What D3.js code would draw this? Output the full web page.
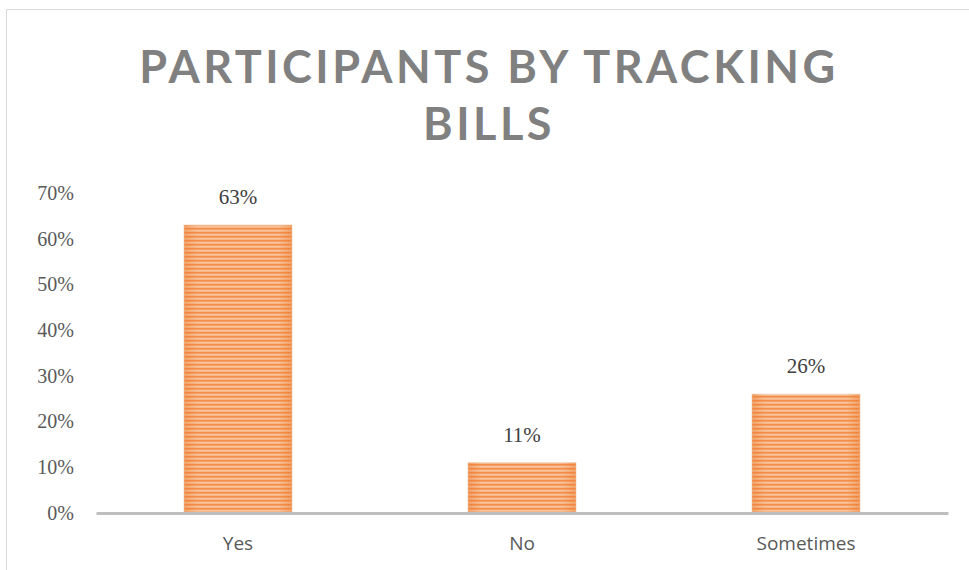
<!DOCTYPE html>
<html>
<head>
<meta charset="utf-8">
<script src="https://cdn.jsdelivr.net/npm/d3@7"></script>
<style>
  body { margin: 0; background: #fff; }
</style>
</head>
<body>
<div id="chart"></div>
<script>
// Data

var categories = ['Yes', 'No', 'Sometimes'];
var shares = [0.63, 0.11, 0.26];
var yTicks = [0, 0.1, 0.2, 0.3, 0.4, 0.5, 0.6, 0.7];
var titleLines = ['PARTICIPANTS BY TRACKING', 'BILLS'];

// Dimensions

var width = 969;
var height = 570;
var plot = { left: 96, right: 948, top: 193, bottom: 513 };

var svg = d3.select('#chart')
  .append('svg')
  .attr('width', width)
  .attr('height', height);

// Chart frame (only top and left edges visible)

svg.append('path')
  .attr('d', 'M6.5,' + height + 'V9.5H' + width)
  .attr('fill', 'none')
  .attr('stroke', '#d9d9d9')
  .attr('stroke-width', 1);

// Bar fill: orange with fine horizontal stripes

var defs = svg.append('defs');

var stripes = defs.append('pattern')
  .attr('id', 'stripes')
  .attr('patternUnits', 'userSpaceOnUse')
  .attr('width', 8)
  .attr('height', 4);
stripes.append('rect').attr('width', 8).attr('height', 4).attr('fill', '#f6ab76');
stripes.append('rect').attr('y', 0).attr('width', 8).attr('height', 1.3).attr('fill', '#f28c48');
stripes.append('rect').attr('y', 2.2).attr('width', 8).attr('height', 1.2).attr('fill', '#fac9a3');

var edge = defs.append('linearGradient')
  .attr('id', 'edge')
  .attr('x1', 0).attr('x2', 1).attr('y1', 0).attr('y2', 0);
edge.append('stop').attr('offset', '0%').attr('stop-color', '#ec7d32').attr('stop-opacity', 0.45);
edge.append('stop').attr('offset', '12%').attr('stop-color', '#ec7d32').attr('stop-opacity', 0);
edge.append('stop').attr('offset', '88%').attr('stop-color', '#ec7d32').attr('stop-opacity', 0);
edge.append('stop').attr('offset', '100%').attr('stop-color', '#ec7d32').attr('stop-opacity', 0.45);

// Scales

var x = d3.scaleBand()
  .domain(categories)
  .range([plot.left, plot.right])
  .paddingInner(0.62)
  .paddingOuter(0.31);

var y = d3.scaleLinear()
  .domain([0, 0.7])
  .range([plot.bottom, plot.top]);

// Title

svg.append('g')
  .selectAll('text')
  .data(titleLines)
  .enter()
  .append('text')
  .attr('x', 489)
  .attr('y', function (d, i) { return 83 + i * 57; })
  .attr('text-anchor', 'middle')
  .attr('font-family', 'Lato, "Open Sans", sans-serif')
  .attr('font-weight', 'bold')
  .attr('font-size', 45)
  .attr('letter-spacing', 3.5)
  .attr('fill', '#808080')
  .text(function (d) { return d; });

// Y axis labels (no line, no ticks)

var yAxis = d3.axisLeft(y)
  .tickValues(yTicks)
  .tickFormat(d3.format('.0%'))
  .tickSize(0)
  .tickPadding(0);

var gy = svg.append('g')
  .attr('transform', 'translate(74,0)')
  .call(yAxis);
gy.select('.domain').remove();
gy.selectAll('text')
  .attr('font-family', '"Liberation Serif", "Times New Roman", serif')
  .attr('font-size', 20)
  .attr('fill', '#595959');

// Bars

svg.append('g')
  .selectAll('rect')
  .data(shares)
  .enter()
  .append('rect')
  .attr('x', function (d, i) { return x(categories[i]); })
  .attr('y', function (d) { return y(d); })
  .attr('width', x.bandwidth())
  .attr('height', function (d) { return y(0) - y(d); })
  .attr('fill', 'url(#stripes)')
  .attr('stroke', '#f0d2bc')
  .attr('stroke-width', 0.8);

svg.append('g')
  .selectAll('rect')
  .data(shares)
  .enter()
  .append('rect')
  .attr('x', function (d, i) { return x(categories[i]); })
  .attr('y', function (d) { return y(d); })
  .attr('width', x.bandwidth())
  .attr('height', function (d) { return y(0) - y(d); })
  .attr('fill', 'url(#edge)');

// Data labels

svg.append('g')
  .selectAll('text')
  .data(shares)
  .enter()
  .append('text')
  .attr('x', function (d, i) { return x(categories[i]) + x.bandwidth() / 2; })
  .attr('y', function (d) { return y(d) - 21; })
  .attr('text-anchor', 'middle')
  .attr('font-family', '"Liberation Serif", "Times New Roman", serif')
  .attr('font-size', 21)
  .attr('fill', '#404040')
  .text(function (d) { return d3.format('.0%')(d); });

// X axis

var xAxis = d3.axisBottom(x)
  .tickSize(0)
  .tickPadding(24);

var gx = svg.append('g')
  .attr('transform', 'translate(0,' + plot.bottom + ')')
  .call(xAxis);
gx.select('.domain')
  .attr('stroke', '#bfbfbf')
  .attr('stroke-width', 3);
gx.selectAll('text')
  .attr('font-family', '"Open Sans", Lato, sans-serif')
  .attr('font-size', 19)
  .attr('fill', '#595959');
</script>
</body>
</html>
